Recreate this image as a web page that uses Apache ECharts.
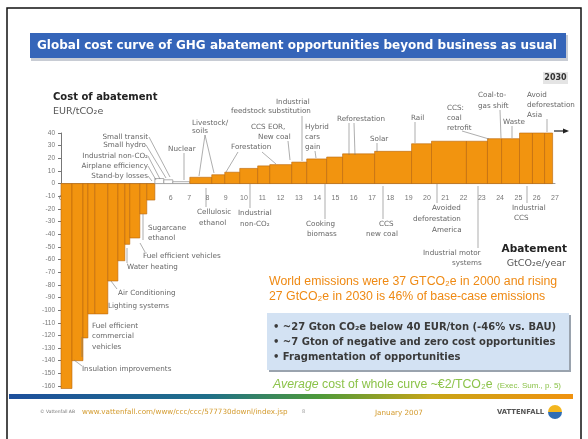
<!DOCTYPE html>
<html><head><meta charset="utf-8">
<script src="https://cdn.jsdelivr.net/npm/echarts@6/dist/echarts.min.js"></script>
<style>html,body{margin:0;padding:0;background:#fff}#c{width:588px;height:439px}</style>
</head><body><div id="c"></div>
<script>
// ---- data ----
// abatement width of each opportunity, GtCO2e/year
const widths = [0.60,0.60,0.27,0.38,0.71,0.55,0.38,0.27,0.55,0.38,0.44,0.49,0.49,0.93,1.20,0.71,0.82,0.98,0.66,1.20,0.82,1.09,0.87,1.75,2.02,1.09,1.91,1.15,0.77,0.98,0.71,0.66,0.44];
// cost of abatement, EUR/tCO2e
const costs  = [-162,-140,-122,-103,-103,-77,-61,-48,-43,-24,-13,4,3,1.5,5,7,9,12,14,15,17,19.5,21,23.5,25.5,31.5,33.5,33.5,35.5,35.5,40,40,40];
// x tick labels (GtCO2e/year)
const xTicks = [0,1,2,3,4,5,6,7,8,9,10,11,12,13,14,15,16,17,18,19,20,21,22,23,24,25,26,27];
const xMin = 0, xMax = 27;
const yMin = -160, yMax = 40, yStep = 10;

const title = 'Global cost curve of GHG abatement opportunities beyond business as usual';

// annotation labels (layout, px)
const notes = [
  ['Small transit',148,137,'right'],['Small hydro',146,145,'right'],['Industrial non-CO₂',148,156,'right'],
  ['Airplane efficiency',148,166,'right'],['Stand-by losses',148,176,'right'],
  ['Nuclear',168,149,'left'],['Livestock/',192,123,'left'],['soils',192,131,'left'],
  ['Forestation',231,147,'left'],['CCS EOR,',251,127,'left'],['New coal',258,137,'left'],
  ['Industrial',276,102,'left'],['feedstock substitution',231,111,'left'],
  ['Hybrid',305,127,'left'],['cars',305,137,'left'],['gain',305,147,'left'],
  ['Reforestation',337,119,'left'],['Solar',370,139,'left'],['Rail',411,118,'left'],
  ['CCS:',447,108,'left'],['coal',447,118,'left'],['retrofit',447,128,'left'],
  ['Coal-to-',478,95,'left'],['gas shift',478,106,'left'],['Waste',503,122,'left'],
  ['Avoid',527,95,'left'],['deforestation',527,105,'left'],['Asia',527,115,'left'],
  ['Cellulosic',197,212,'left'],['ethanol',199,223,'left'],['Industrial',238,213,'left'],['non-CO₂',240,224,'left'],
  ['Cooking',306,224,'left'],['biomass',307,234,'left'],['CCS',379,224,'left'],['new coal',366,234,'left'],
  ['Avoided',432,208,'left'],['deforestation',413,219,'left'],['America',432,230,'left'],
  ['Industrial motor',423,253,'left'],['systems',452,263,'left'],['Industrial',512,208,'left'],['CCS',514,218,'left'],
  ['Sugarcane',148,228,'left'],['ethanol',148,238,'left'],['Fuel efficient vehicles',143,256,'left'],['Water heating',127,267,'left'],
  ['Air Conditioning',118,293,'left'],['Lighting systems',108,306,'left'],
  ['Fuel efficient',92,326,'left'],['commercial',92,336,'left'],['vehicles',92,347,'left'],
  ['Insulation improvements',82,369,'left']
];
const leaders = [
  [[149,137],[170,177]],[[146,145],[166,178]],[[148,156],[160,179]],[[148,166],[156,180]],[[148,176],[152,181]],
  [[184,153],[184,180]],[[205,135],[199,176]],[[205,135],[214,173]],
  [[238,152],[226,172]],[[262,152],[276,164]],[[288,141],[290,160]],[[302,116],[302,161]],
  [[315,151],[316,158]],[[349,123],[349,155]],[[354,123],[355,155]],[[377,143],[377,152]],[[415,122],[415,143]],
  [[462,131],[489,139]],[[500,110],[501,138]],[[512,126],[512,138]],[[547,119],[547,132]],
  [[206,188],[206,207]],[[250,184],[250,208]],[[325,184],[325,219]],[[383,186],[383,219]],
  [[437,184],[437,203]],[[478,186],[478,248]],[[527,186],[527,203]],
  [[143,214],[143,240]],[[140,243],[145,252]],[[127,248],[127,263]],[[111,281],[117,289]],
  [[82,337],[82,357]],[[74,360],[82,366]]
];

// ---- chart ----
const bars = [];
let acc = 0;
for (let i = 0; i < widths.length; i++) { bars.push([acc, acc + widths[i], costs[i]]); acc += widths[i]; }

const FONT = 'Liberation Sans';
const DJ = "'DejaVu Sans'";
const chart = echarts.init(document.getElementById('c'), null, {renderer: 'canvas'});

const g = [];
// frame
g.push({type:'rect', shape:{x:7, y:8, width:574, height:440}, style:{fill:'none', stroke:'#111', lineWidth:1.5}, z:0});
// title bar
g.push({type:'rect', shape:{x:31, y:35, width:537, height:26}, style:{fill:'#c8ccd4'}, z:1});
g.push({type:'rect', shape:{x:30, y:33, width:536, height:25}, style:{fill:'#3565b9'}, z:2});
g.push({type:'text', x:37, y:46, style:{text:title, fill:'#fff', font:'bold 12px '+DJ, textVerticalAlign:'middle'}, z:3});
// 2030 tag
g.push({type:'rect', shape:{x:543, y:72, width:25, height:12}, style:{fill:'#e4e4e4'}, z:2});
g.push({type:'text', x:555.5, y:78, style:{text:'2030', fill:'#333', font:'bold 8px '+DJ, textAlign:'center', textVerticalAlign:'middle'}, z:3});
// axis titles
g.push({type:'text', x:53, y:97, style:{text:'Cost of abatement', fill:'#222', font:'bold 10px '+DJ, textVerticalAlign:'middle'}});
g.push({type:'text', x:53, y:112, style:{text:'EUR/tCO₂e', fill:'#555', font:'9.5px '+DJ, textVerticalAlign:'middle'}});
g.push({type:'text', x:567, y:249, style:{text:'Abatement', fill:'#222', font:'bold 10.5px '+DJ, textAlign:'right', textVerticalAlign:'middle'}});
g.push({type:'text', x:566, y:264, style:{text:'GtCO₂e/year', fill:'#555', font:'9.5px '+DJ, textAlign:'right', textVerticalAlign:'middle'}});
// notes
notes.forEach(n => g.push({type:'text', x:n[1], y:n[2], style:{text:n[0], fill:'#666', font:'7.2px '+DJ, textAlign:n[3], textVerticalAlign:'middle'}, z:5}));
leaders.forEach(l => g.push({type:'polyline', shape:{points:l}, style:{stroke:'#777', lineWidth:0.6, fill:null}, z:5}));
// arrow at end of curve
g.push({type:'polyline', shape:{points:[[554,131],[566,131]]}, style:{stroke:'#222', lineWidth:1.2, fill:null}, z:5});
g.push({type:'polygon', shape:{points:[[569,131],[563,128.5],[563,133.5]]}, style:{fill:'#222'}, z:5});
// orange statement
g.push({type:'text', x:269, y:282, style:{text:'World emissions were 37 GTCO₂e in 2000 and rising', fill:'#ef8a14', font:'12.3px '+FONT, textVerticalAlign:'middle'}});
g.push({type:'text', x:269, y:297, style:{text:'27 GtCO₂e in 2030 is 46% of base-case emissions', fill:'#ef8a14', font:'12.3px '+FONT, textVerticalAlign:'middle'}});
// blue box
g.push({type:'rect', shape:{x:269, y:315, width:302, height:57}, style:{fill:'#9aa3ae'}, z:1});
g.push({type:'rect', shape:{x:267, y:313, width:302, height:57}, style:{fill:'#d3e2f3'}, z:2});
const bul = ['• ~27 Gton CO₂e below 40 EUR/ton (-46% vs. BAU)','• ~7 Gton of negative and zero cost opportunities','• Fragmentation of opportunities'];
bul.forEach((b,i) => g.push({type:'text', x:273, y:327+i*15, style:{text:b, fill:'#3a3a3a', font:'bold 10px '+DJ, textVerticalAlign:'middle'}, z:3}));
// green statement
g.push({type:'text', x:273, y:385, style:{text:'Average', fill:'#8cc34a', font:'italic 12.3px '+FONT, textVerticalAlign:'middle'}});
g.push({type:'text', x:322, y:385, style:{text:'cost of whole curve ~€2/TCO₂e', fill:'#8cc34a', font:'12.3px '+FONT, textVerticalAlign:'middle'}});
g.push({type:'text', x:497, y:386, style:{text:'(Exec. Sum., p. 5)', fill:'#8cc34a', font:'8px '+FONT, textVerticalAlign:'middle'}});
// gradient bar
g.push({type:'rect', shape:{x:9, y:394, width:564, height:5}, style:{fill:new echarts.graphic.LinearGradient(0,0,1,0,[
  {offset:0, color:'#1d4f9c'},{offset:0.35, color:'#1f6f8a'},{offset:0.55, color:'#4e9a3a'},{offset:0.75, color:'#c8a417'},{offset:1, color:'#f0920f'}])}});
// footer
g.push({type:'text', x:40, y:412, style:{text:'© Vattenfall AB', fill:'#777', font:'4.5px '+DJ, textVerticalAlign:'middle'}});
g.push({type:'text', x:82, y:412, style:{text:'www.vattenfall.com/www/ccc/ccc/577730downl/index.jsp', fill:'#d39a2c', font:'7.2px '+DJ, textVerticalAlign:'middle'}});
g.push({type:'text', x:302, y:412, style:{text:'8', fill:'#999', font:'5px '+DJ, textVerticalAlign:'middle'}});
g.push({type:'text', x:375, y:413, style:{text:'January 2007', fill:'#d39a2c', font:'7.2px '+DJ, textVerticalAlign:'middle'}});
g.push({type:'text', x:497, y:412, style:{text:'VATTENFALL', fill:'#555', font:'bold 6.8px '+DJ, textVerticalAlign:'middle'}});
g.push({type:'sector', shape:{cx:555, cy:412, r:7, startAngle:Math.PI, endAngle:2*Math.PI}, style:{fill:'#f3b61f'}});
g.push({type:'sector', shape:{cx:555, cy:412, r:7, startAngle:0, endAngle:Math.PI}, style:{fill:'#2f6db5'}});

chart.setOption({
  animation:false,
  textStyle:{fontFamily:FONT},
  grid:{left:61, right:33, top:133, bottom:53, containLabel:false},
  xAxis:{type:'value', min:xMin, max:xMax, interval:1,
    axisLine:{onZero:true, lineStyle:{color:'#999', width:1}},
    axisTick:{show:false}, splitLine:{show:false}, axisLabel:{show:false}},
  yAxis:{type:'value', min:yMin, max:yMax, interval:yStep,
    axisLine:{show:true, lineStyle:{color:'#777', width:1}},
    axisTick:{show:true, length:3, lineStyle:{color:'#777'}}, splitLine:{show:false},
    axisLabel:{fontSize:6.5, color:'#777', margin:6}},
  series:[
    {type:'custom', name:'ticks', data:xTicks.map(v => [v, 0]), encode:{x:0, y:1}, z:1, silent:true,
      renderItem:function(params, api){
        const p = api.coord([api.value(0), 0]);
        return {type:'text', x:p[0], y:p[1] + 14, style:{text:String(api.value(0)), fill:'#777', font:'7px '+FONT, textAlign:'center', textVerticalAlign:'middle'}};
      }},
    {type:'custom', name:'cost curve', data:bars, encode:{x:[0,1], y:2}, z:3,
      renderItem:function(params, api){
        const x0 = api.value(0), x1 = api.value(1), v = api.value(2);
        const p0 = api.coord([x0, v]), p1 = api.coord([x1, 0]);
        const small = v > 0 && v < 4.5;
        return {type:'rect', shape:{x:p0[0], y:Math.min(p0[1],p1[1]), width:p1[0]-p0[0], height:Math.abs(p1[1]-p0[1])},
          style:{fill: small ? '#fff' : '#f2940f', stroke: small ? '#999' : '#b9650a', lineWidth: small ? 0.8 : 0.6}};
      }}],
  graphic:{elements:g}
});
</script>
</body></html>
